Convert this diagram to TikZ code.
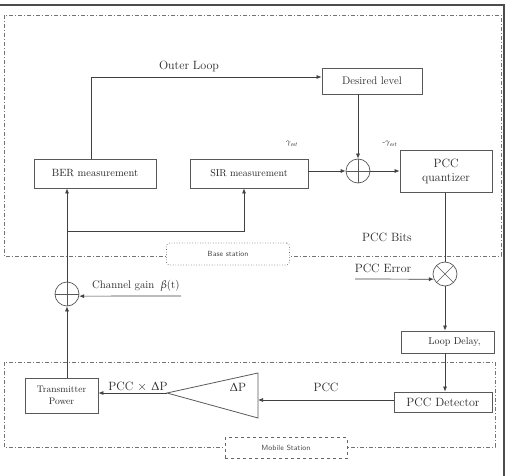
\documentclass[tikz,border=0pt]{standalone}
\usepackage{mathpazo}
\usetikzlibrary{arrows.meta}
\begin{document}
\begin{tikzpicture}[x=1pt,y=-1pt,
  blk/.style={draw=black!65, line width=0.8pt, inner sep=0pt, align=center, text=black!85},
  ar/.style={-{Latex[length=5pt,width=4pt]}, line width=0.7pt, draw=black!75},
  ln/.style={line width=0.7pt, draw=black!75},
  sumnode/.style={circle, draw=black!65, line width=0.7pt, minimum size=24pt, inner sep=0pt},
  region/.style={draw=black!55, line width=0.6pt, dash pattern=on 4pt off 2pt on 1pt off 2pt},
  lbl/.style={text=black!85, inner sep=0pt},
  tag/.style={fill=white, draw=black!60, line width=0.6pt, minimum width=122pt, minimum height=21pt, inner sep=0pt, text=black!70, font=\sffamily\fontsize{7.5}{9}\selectfont}
]
\useasboundingbox (0,0) rectangle (509,476);
% frame
\draw[black!70, line width=1.5pt] (0,5) -- (504,5) -- (504,476);
% regions
\draw[region] (4,15) rectangle (501,256);
\draw[region] (4,362) rectangle (495,447);
\node[tag, rounded corners=3pt, dotted, line width=0.8pt, minimum width=123pt, minimum height=22pt] (bs) at (228,254) {Base station};
\node[tag, dashed] (ms) at (286,448) {Mobile Station};

% blocks
\node[blk, minimum width=122pt, minimum height=29pt, font=\fontsize{10.5}{12}\selectfont] (BER) at (95,173.5) {BER measurement};
\node[blk, minimum width=118pt, minimum height=29pt, font=\fontsize{10}{12}\selectfont] (SIR) at (249,173.5) {SIR measurement};
\node[blk, minimum width=100pt, minimum height=26pt, font=\fontsize{11}{12}\selectfont] (Des) at (372,81) {Desired level};
\node[blk, minimum width=92pt, minimum height=42pt, font=\fontsize{12}{14}\selectfont] (Q) at (446,171.5) {PCC\\quantizer};
\node[sumnode] (sum) at (358,171) {};
\draw[ln, black!65] (sum.north) -- (sum.south) (sum.west) -- (sum.east);
\node[sumnode] (mult) at (445,274) {};
\draw[ln, black!65] (mult.north east) -- (mult.south west) (mult.north west) -- (mult.south east);
\node[sumnode] (sum2) at (67,294) {};
\draw[ln, black!65] (sum2.north) -- (sum2.south) (sum2.west) -- (sum2.east);
\node[blk, minimum width=93pt, minimum height=22pt, font=\fontsize{10}{12}\selectfont] (LD) at (447.5,342) {\hspace{14pt}Loop Delay,};
\node[blk, minimum width=98pt, minimum height=20pt, font=\fontsize{12}{14}\selectfont] (PD) at (443,402) {PCC Detector};
\node[blk, minimum width=73pt, minimum height=35pt, font=\fontsize{9.5}{12}\selectfont] (TP) at (61.5,395.5) {Transmitter\\Power};
% triangle
\coordinate (tritip) at (167,393);
\coordinate (triin) at (258,400);
\draw[line width=0.8pt, black!65] (tritip) -- (258,373) -- (258,418) -- cycle;

% connectors
\coordinate (olc) at (91,77);
\draw[ar] (BER.north -| olc) -- (olc) -- (olc -| Des.west);
\draw[ar] (Des.south -| sum.north) -- (sum.north);
\draw[ar] (SIR.east |- sum.west) -- (sum.west);
\draw[ar] (sum.east) -- (sum.east -| Q.west);
\draw[ln] (Q.south -| mult.north) -- (mult.north);
\coordinate (errin) at (355,279);
\draw[ar] (errin) -- (mult.205);
\draw[ar] (mult.south) -- (mult.south |- LD.north);
\draw[ar] (LD.south -| mult.south) -- (PD.north -| mult.south);
\draw[ar] (triin -| PD.west) -- (triin);
\draw[ar] (tritip) -- (tritip -| TP.east);
\draw[ar] (sum2.south |- TP.north) -- (sum2.south);
\draw[ar] (sum2.north) -- (sum2.north |- BER.south);
\coordinate (br) at (67,231);
\draw[ar] (br) -| ([xshift=-5pt]SIR.south);
\coordinate (cgin) at (181,296);
\draw[ar] (cgin) -- (sum2.350);

% labels
\node[lbl, font=\fontsize{12}{14}\selectfont] (outer) at (189,66) {Outer Loop};
\node[lbl, font=\fontsize{7.5}{9}\selectfont] (g1) at (292,144) {$\gamma_{est}$};
\node[lbl, font=\fontsize{7.5}{9}\selectfont] (g2) at (390,144) {-$\gamma_{est}$};
\node[lbl, font=\fontsize{12}{14}\selectfont] (bits) at (387,237) {PCC Bits};
\node[lbl, font=\fontsize{12}{14}\selectfont] (err) at (383,268) {PCC Error};
\node[lbl, anchor=west, font=\fontsize{11}{13}\selectfont] (cg) at (92,286) {Channel gain\hspace{6pt}$\beta$(t)};
\node[lbl, font=\fontsize{12}{14}\selectfont] (dp) at (238,387) {$\Delta$P};
\node[lbl, font=\fontsize{12}{14}\selectfont] (pcc) at (326,387) {PCC};
\node[lbl, font=\fontsize{12}{14}\selectfont] (pccdp) at (138,387) {PCC $\times$\hspace{4pt}$\Delta$P};
\end{tikzpicture}
\end{document}
